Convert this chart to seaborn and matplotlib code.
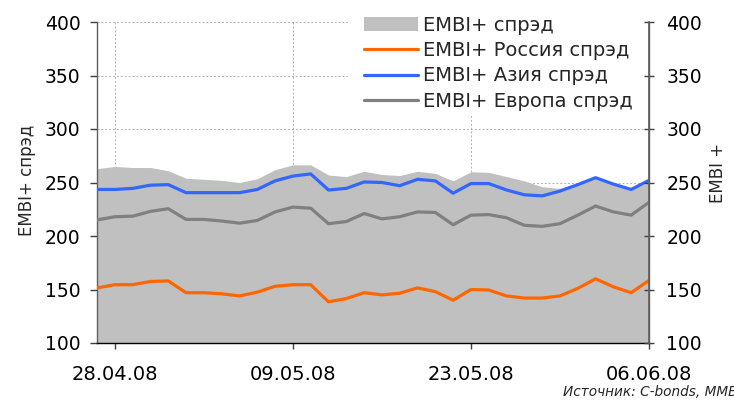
import numpy as np
import pandas as pd
import matplotlib
matplotlib.use("Agg")
import matplotlib.pyplot as plt
import seaborn as sns
from matplotlib.patches import Patch, Rectangle
from matplotlib.lines import Line2D

# значения спрэдов, б.п. (32 торговых дня)
embi = [263, 265, 264, 264, 261, 254, 253, 252, 250, 253.5, 262, 266.5, 266.5, 257, 255.5, 260.5,
        257.5, 256.5, 260.5, 258.5, 251.5, 260, 259.5, 255.5, 251.5, 246, 244.5, 249, 254, 249.5, 244, 250]
russia = [151.5, 154.5, 154.5, 157.5, 158, 147, 147, 146, 144, 147.5, 153, 154.5, 154.5, 138.5, 141.5, 147,
          145, 146.5, 151.5, 148, 140, 150, 149.5, 144, 142, 142, 144, 151, 160, 152.5, 147, 158.5]
asia = [243.5, 243.5, 244.5, 247.5, 248, 240.5, 240.5, 240.5, 240.5, 243.5, 251.5, 256, 258, 243, 244.5, 250.5,
        250, 247, 253, 251.5, 240, 249, 249, 243, 238.5, 237.5, 242, 248, 254.5, 248.5, 243.5, 252]
europe = [215, 218, 218.5, 223, 225.5, 215.5, 215.5, 214, 212, 214.5, 222.5, 227, 226, 211.5, 213.5, 221,
          216, 218, 222.5, 222, 210.5, 219.5, 220, 217, 210, 209, 211.5, 219.5, 228, 222.5, 219.5, 231.5]

tick_pos = [1, 11, 21, 31]
tick_labels = ["28.04.08", "09.05.08", "23.05.08", "06.06.08"]

names = ["EMBI+ Россия спрэд", "EMBI+ Азия спрэд", "EMBI+ Европа спрэд"]
colors = ["#FF6600", "#3366FF", "#808080"]

idx = np.arange(len(embi))
df = pd.DataFrame({"idx": idx, names[0]: russia, names[1]: asia, names[2]: europe})
long = df.melt(id_vars="idx", var_name="series", value_name="value")

sns.set_theme(style="white")
plt.rcParams["font.family"] = ["DejaVu Sans"]

fig = plt.figure(figsize=(7.34, 4.01), dpi=100)
ax = fig.add_axes([97 / 734, 1 - 343 / 401, (649 - 97) / 734, (343 - 22) / 401])

# серая область - EMBI+ спрэд
ax.fill_between(idx, 100, embi, color="#C0C0C0", lw=0, zorder=1)

sns.lineplot(data=long, x="idx", y="value", hue="series", hue_order=names,
             palette=colors, linewidth=2.3, legend=False, ax=ax, zorder=3)

ax.set_xlim(0, 31)
ax.set_ylim(100, 400)
ax.set_yticks(range(100, 401, 50))
ax.set_xticks(tick_pos)
ax.set_xticklabels(tick_labels)
ax.set_xlabel("")
ax.set_ylabel("")

ax.set_axisbelow(True)
ax.grid(True, linestyle=(0, (2, 2)), color="#b0b0b0", lw=0.7)

# белая подложка под легендой (закрывает сетку)
ax.add_patch(Rectangle((348 / 734, 1 - 116 / 401), (647 - 348) / 734, 116 / 401,
                       transform=fig.transFigure, facecolor="white", edgecolor="none",
                       zorder=0.8, clip_on=False))

ax.spines["top"].set_visible(False)
ax.spines["left"].set_color("#606060")
ax.spines["right"].set_color("#606060")
ax.spines["bottom"].set_color("black")
for s in ["left", "right", "bottom"]:
    ax.spines[s].set_linewidth(1.0)

ax.tick_params(axis="y", which="both", left=True, direction="out", length=5, width=1,
               color="#404040", pad=7, labelsize=13.5, labelcolor="black")
ax.tick_params(axis="x", bottom=True, direction="out", length=4.3, width=1,
               color="#404040", pad=11.5, labelsize=14, labelcolor="black")

ax2 = ax.twinx()
ax2.set_ylim(100, 400)
ax2.set_yticks(range(100, 401, 50))
ax2.tick_params(axis="y", right=True, direction="inout", length=7, width=1,
                color="#404040", pad=9, labelsize=13.5, labelcolor="black")
for s in ["top", "left", "bottom"]:
    ax2.spines[s].set_visible(False)
ax2.spines["right"].set_color("#606060")

fig.text(27 / 734, 1 - 180 / 401, "EMBI+ спрэд", rotation=90, ha="center", va="center", fontsize=12)
fig.text(718 / 734, 1 - 173 / 401, "EMBI +", rotation=90, ha="center", va="center", fontsize=12)

handles = [Patch(facecolor="#C0C0C0", edgecolor="none")] + \
          [Line2D([0], [0], color=c, lw=2.3) for c in colors]
labels = ["EMBI+ спрэд"] + names
leg = ax2.legend(handles, labels, loc="upper left", bbox_to_anchor=(364 / 734, 1 - 16 / 401),
                 bbox_transform=fig.transFigure, frameon=False, fontsize=14,
                 handlelength=2.8, handletextpad=0.25, labelspacing=0.32, borderpad=0,
                 borderaxespad=0)

fig.text(563 / 734, 1 - 392 / 401, "Источник: C-bonds, ММВБ", fontsize=9.8,
         style="italic", ha="left", va="center")

fig.savefig("out.png", dpi=100)
